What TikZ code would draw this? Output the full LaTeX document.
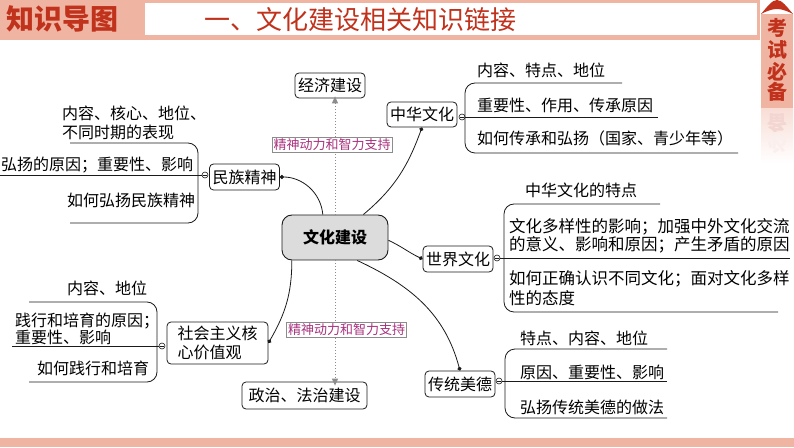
\documentclass[tikz,border=0pt]{standalone}
\usepackage{fontspec}
\setmainfont{Noto Sans CJK SC}
\usetikzlibrary{arrows.meta,positioning}
\definecolor{Ink}{HTML}{1A1A1A}
\definecolor{Rose}{HTML}{F0B4A2}
\definecolor{Brick}{HTML}{C0321C}
\definecolor{Plum}{HTML}{A8327E}
\definecolor{Haze}{HTML}{DCDCDC}
\definecolor{Mist}{HTML}{8C8C8C}

\begin{document}
\begin{tikzpicture}[x=1pt,y=1pt,
  hub/.style={draw=Ink,fill=Haze,line width=0.9pt,rounded corners=10pt,minimum width=106pt,minimum height=45pt,font=\bfseries\fontsize{16}{16}\selectfont},
  topic/.style={draw=Ink,fill=white,line width=0.8pt,rounded corners=4pt,minimum height=25pt,inner sep=3pt,font=\fontsize{16}{17}\selectfont},
  item/.style={anchor=west,inner sep=0pt,align=left,font=\fontsize{16}{19}\selectfont},
  knob/.style={circle,draw=Ink,fill=white,line width=0.6pt,inner sep=0pt,minimum size=6pt,
    path picture={\draw[Ink,line width=0.5pt] ([xshift=1.4pt]path picture bounding box.west) -- ([xshift=-1.4pt]path picture bounding box.east);}},
  link/.style={draw=Ink,line width=0.8pt,-{Circle[length=4pt]}},
  brace/.style={draw=Ink,line width=0.8pt,rounded corners=10pt},
  flow/.style={draw=Mist,dotted,line width=1pt,-{Triangle[length=7pt,width=6pt]}},
  tag/.style={draw=Mist,fill=white,line width=0.6pt,text=Plum,inner sep=1.5pt,font=\fontsize{13}{13}\selectfont},
  tabch/.style={text=Brick,inner sep=0pt,font=\bfseries\fontsize{20}{20}\selectfont}
]
\useasboundingbox (0,0) rectangle (794,447);

% header band
\fill[Rose] (0,407) rectangle (760,447);
\fill[white] (145,412) rectangle (757,444);
\node[text=Brick,font=\bfseries\fontsize{28}{28}\selectfont] (mapttl) at (62,428) {知识导图};
\node[text=Brick,font=\fontsize{26}{26}\selectfont] (secttl) at (360.5,427) {一、文化建设相关知识链接};

% side tab
\shade[top color=Rose!45,bottom color=white] (761,339) rectangle (793,284);
\fill[Rose] (761,339) rectangle (793,433);
\fill[Brick] (761,433) .. controls (767,440) and (772,447) .. (777,447)
  .. controls (782,447) and (787,440) .. (793,433)
  .. controls (787,436) and (782,438) .. (777,438)
  .. controls (772,438) and (767,436) .. (761,433) -- cycle;
\foreach \ch/\yy [count=\i] in {考/419,试/397,必/375,备/355}
  \node[tabch] (tab\i) at (777,\yy) {\ch};
\node[tabch,text=Brick!20] (echo1) at (777,324) {\scalebox{1}[-1]{备}};
\node[tabch,text=Brick!8] (echo2) at (777,303) {\scalebox{1}[-1]{必}};

% footer band
\fill[Rose] (0,0) rectangle (794,9);

% centre and the two dotted links
\node[hub] (core) at (335,209.5) {文化建设};
\node[topic,minimum width=66pt] (econ) at (330,361.5) {经济建设};
\node[topic,minimum width=125pt,minimum height=27pt] (law) at (304.5,51.5) {政治、法治建设};
\draw[flow] (core.north) -- ([yshift=2pt]core.north |- econ.south);
\draw[flow] (core.south) -- ([yshift=-4pt]core.south |- law.north);
\node[tag] (tagup) at (332,302) {精神动力和智力支持};
\node[tag] (tagdown) at (346.5,117.5) {精神动力和智力支持};

% main branches
\node[topic,minimum width=70pt] (zhwh) at (422,332.5) {中华文化};
\node[topic,minimum width=69pt,minimum height=26pt] (mzjs) at (244.5,270) {民族精神};
\node[topic,minimum width=101pt,minimum height=42pt,align=left,font=\fontsize{16}{19}\selectfont] (shzy) at (217.5,104) {社会主义核\\心价值观};
\node[topic,minimum width=70pt,minimum height=26pt] (sjwh) at (458,188) {世界文化};
\node[topic,minimum width=70pt,minimum height=26pt] (ctmd) at (460,63) {传统美德};

\draw[link] (core.39) to[out=40,in=-110] (zhwh.south);
\draw[link] (core.118) to[out=95,in=0] (mzjs.east);
\draw[link] (core.208) to[out=-90,in=60] (shzy.east);
\draw[link] (core.-3) to[out=-25,in=155] (sjwh.west);
\draw[link] (core.-46) to[out=-25,in=105] (ctmd.north);

% 中华文化
\node[knob] (kzh) at (462,330) {};
\draw[brace] (622,364) -- (465,364) -- (465,294) -- (738,294);
\draw[Ink,line width=0.8pt] (kzh.east) -- (658,330);
\foreach \txt/\yy [count=\i] in {内容、特点、地位/377,重要性、作用、传承原因/342,如何传承和弘扬（国家、青少年等）/309}
  \node[item] (zh\i) at (477,\yy) {\txt};

% 民族精神
\node[knob] (kmz) at (205,272) {};
\draw[brace] (70,304) -- (198,304) -- (198,224) -- (70,224);
\draw[Ink,line width=0.8pt] (kmz.west) -- (0,272);
\node[item] (mz1) at (62,324.5) {内容、核心、地位、\\不同时期的表现};
\node[item] (mz2) at (1,282) {弘扬的原因；重要性、影响};
\node[item] (mz3) at (67,247) {如何弘扬民族精神};

% 社会主义核心价值观
\node[knob] (ksh) at (162,101) {};
\draw[brace] (29,145) -- (157,145) -- (157,65) -- (29,65);
\draw[Ink,line width=0.8pt] (ksh.west) -- (12,101);
\node[item] (sh1) at (67,159) {内容、地位};
\node[item,font=\fontsize{16}{17}\selectfont] (sh2) at (15,118.5) {践行和培育的原因；\\重要性、影响};
\node[item] (sh3) at (37,79) {如何践行和培育};

% 世界文化
\node[knob] (ksj) at (497,189) {};
\draw[brace] (660,243) -- (504,243) -- (504,135) -- (778,135);
\draw[Ink,line width=0.8pt] (ksj.east) -- (790,189);
\node[item] (sj1) at (525,257) {中华文化的特点};
\node[item,font=\fontsize{16.5}{16.5}\selectfont] (sj2) at (509,211) {文化多样性的影响；加强中外文化交流\\的意义、影响和原因；产生矛盾的原因};
\node[item,font=\fontsize{16.5}{20}\selectfont] (sj3) at (509,159) {如何正确认识不同文化；面对文化多样\\性的态度};

% 传统美德
\node[knob] (kct) at (499,66) {};
\draw[brace] (667,98) -- (505,98) -- (505,29) -- (667,29);
\draw[Ink,line width=0.8pt] (kct.east) -- (667,66);
\foreach \txt/\yy [count=\i] in {特点、内容、地位/109,原因、重要性、影响/75,弘扬传统美德的做法/40}
  \node[item] (ct\i) at (520,\yy) {\txt};
\end{tikzpicture}
\end{document}
